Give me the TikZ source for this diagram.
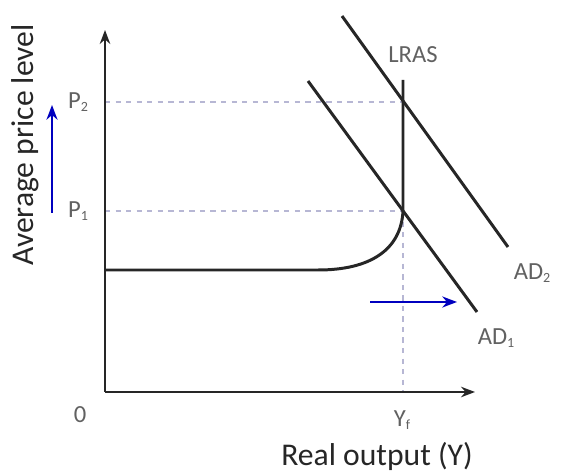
\documentclass[tikz,border=0pt]{standalone}
\usepackage{fontspec}
\setmainfont{Carlito}
\usetikzlibrary{positioning, arrows.meta}

\newcommand{\lowsub}[1]{\raisebox{-0.25ex}{\fontsize{8}{9}\selectfont #1}}

\begin{document}
\begin{tikzpicture}[
  x=0.02cm, y=-0.02cm,
  >=Stealth,
  axis/.style={line width=1.1pt, draw=black!85},
  curve/.style={line width=1.7pt, draw=black!85},
  guide/.style={dashed, draw=blue!25!gray!45, line width=0.7pt},
  move/.style={->, draw=blue!75!black, line width=1.2pt},
  lbl/.style={text=black!62, font=\fontsize{14}{16}\selectfont, inner sep=1pt},
  title/.style={text=black!85, font=\fontsize{18}{20}\selectfont, inner sep=1pt},
]

  \useasboundingbox (0,0) rectangle (561,472);

  \coordinate (O) at (105,392);
  \coordinate (ytop) at (105,30);
  \coordinate (xend) at (475,392);
  \coordinate (E1) at (403,211);
  \coordinate (E2) at (403,102);
  \coordinate (bend) at (318,270);
  \coordinate (lrastop) at (403,80);
  \coordinate (ad1a) at (308,81);
  \coordinate (ad1b) at (477,312);
  \coordinate (ad2a) at (342,16);
  \coordinate (ad2b) at (508,247);
  \coordinate (upa) at (52,213);
  \coordinate (upb) at (52,105);
  \coordinate (righta) at (370,302);
  \coordinate (rightb) at (457,302);

  \node[title, rotate=90] (ylabel) at (25,145) {Average price level};
  \node[title] (xlabel) at (377,456) {Real output (Y)};
  \node[lbl] (zero) at (80,415) {0};
  \node[lbl] (p2) at (78,102) {P\lowsub{2}};
  \node[lbl] (p1) at (78,211) {P\lowsub{1}};
  \node[lbl] (yf) at (402,420) {Y\lowsub{f}};
  \node[lbl] (lras) at (413,55) {LRAS};
  \node[lbl] (ad2) at (532,273) {AD\lowsub{2}};
  \node[lbl] (ad1) at (496,338) {AD\lowsub{1}};

  \draw[guide] (O |- E2) -- (E2);
  \draw[guide] (O |- E1) -- (E1);
  \draw[guide] (E1) -- (O -| E1);

  \draw[axis, ->] (O) -- (ytop);
  \draw[axis, ->] (O) -- (xend);

  \draw[curve] (O |- bend) -- (bend) .. controls (370,270) and (401,250) .. (E1) -- (lrastop);
  \draw[curve] (ad1a) -- (ad1b);
  \draw[curve] (ad2a) -- (ad2b);

  \draw[move] (upa) -- (upb);
  \draw[move] (righta) -- (rightb);
\end{tikzpicture}
\end{document}
